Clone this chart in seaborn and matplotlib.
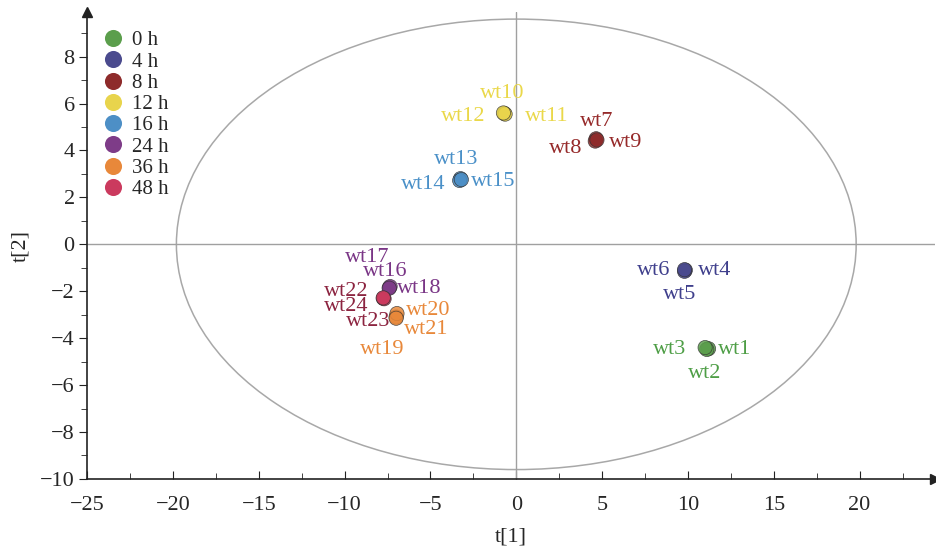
import matplotlib

matplotlib.use("Agg")
import matplotlib.pyplot as plt
import pandas as pd
import seaborn as sns
from matplotlib.patches import Ellipse
from matplotlib.ticker import MultipleLocator

# 데이터
groups = ["0 h", "4 h", "8 h", "12 h", "16 h", "24 h", "36 h", "48 h"]
group_colors = ["#5B9E4C", "#4B4B8E", "#8E2B2B", "#E8D44C",
                "#4D8FC6", "#7E3C88", "#E8883A", "#CB3A5E"]

samples = ["wt1", "wt2", "wt3", "wt4", "wt5", "wt6", "wt7", "wt8", "wt9",
           "wt10", "wt11", "wt12", "wt13", "wt14", "wt15", "wt16", "wt17", "wt18",
           "wt19", "wt20", "wt21", "wt22", "wt23", "wt24"]
sample_group = ["0 h"] * 3 + ["4 h"] * 3 + ["8 h"] * 3 + ["12 h"] * 3 + \
    ["16 h"] * 3 + ["24 h"] * 3 + ["36 h"] * 3 + ["48 h"] * 3
t1 = [11.2, 11.1, 11.0, 9.85, 9.8, 9.8, 4.65, 4.6, 4.7,
      -0.7, -0.65, -0.75, -3.25, -3.3, -3.2, -7.4, -7.35, -7.4,
      -7.0, -6.95, -7.0, -7.75, -7.7, -7.75]
t2 = [-4.45, -4.48, -4.4, -1.1, -1.15, -1.08, 4.5, 4.4, 4.45,
      5.58, 5.55, 5.6, 2.8, 2.72, 2.76, -1.85, -1.8, -1.87,
      -3.1, -2.95, -3.15, -2.3, -2.32, -2.28]

# 라벨 위치
label_x = [12.7, 11.0, 8.95, 11.55, 9.5, 8.0, 4.7, 2.85, 6.4,
           -0.8, 1.8, -3.1, -3.5, -5.4, -1.35, -7.65, -8.7, -5.65,
           -7.8, -5.15, -5.25, -9.9, -8.65, -9.9]
label_y = [-4.47, -5.5, -4.47, -1.11, -2.13, -1.11, 5.23, 4.09, 4.34,
           6.43, 5.45, 5.45, 3.62, 2.55, 2.68, -1.15, -0.55, -1.9,
           -4.47, -2.8, -3.62, -2.0, -3.28, -2.66]
label_colors = ["#4E9E46"] * 3 + ["#3F3F8C"] * 3 + ["#962A2A"] * 3 + \
    ["#EAD84A"] * 3 + ["#4A90C8"] * 3 + ["#7A3686"] * 3 + \
    ["#E8883A"] * 3 + ["#8C2440"] * 3

df = pd.DataFrame({"sample": samples, "group": sample_group, "t1": t1, "t2": t2})

sns.set_style("white")
plt.rcParams["font.family"] = "serif"
plt.rcParams["font.serif"] = ["Liberation Serif", "DejaVu Serif"]
plt.rcParams["axes.unicode_minus"] = True

fig = plt.figure(figsize=(9.37, 5.48), dpi=100)
ax = fig.add_axes([0.093, 0.126, 0.905, 0.852])

# Hotelling 타원과 기준선
ax.add_patch(Ellipse((0, 0), 39.6, 19.2, fill=False, edgecolor="#A8A8A8", lw=1.1, zorder=1))
ax.axhline(0, color="#A0A0A0", lw=1, zorder=1)
ax.axvline(0, color="#A0A0A0", lw=1, zorder=1)

sns.scatterplot(data=df, x="t1", y="t2", hue="group", hue_order=groups,
                palette=group_colors, s=105, edgecolor="#333333", linewidth=0.5,
                alpha=0.85, ax=ax, zorder=3)

for name, lx, ly, c in zip(samples, label_x, label_y, label_colors):
    ax.text(lx, ly, name, color=c, fontsize=16, ha="center", va="center",
            family="Liberation Serif", zorder=4)

ax.set_xlim(-25, 24.4)
ax.set_ylim(-10, 9.9)
ax.xaxis.set_major_locator(MultipleLocator(5))
ax.xaxis.set_minor_locator(MultipleLocator(2.5))
ax.yaxis.set_major_locator(MultipleLocator(2))
ax.yaxis.set_minor_locator(MultipleLocator(1))
ax.tick_params(axis="x", which="both", direction="in", bottom=True, labelsize=16,
               color="#222222", pad=12)
ax.tick_params(axis="x", which="major", length=6)
ax.tick_params(axis="x", which="minor", length=4)
ax.tick_params(axis="y", which="both", direction="out", left=True, labelsize=16,
               color="#222222", pad=3)
ax.tick_params(axis="y", which="major", length=6)
ax.tick_params(axis="y", which="minor", length=4)

for side in ["top", "right"]:
    ax.spines[side].set_visible(False)
for side in ["left", "bottom"]:
    ax.spines[side].set_color("#222222")
    ax.spines[side].set_linewidth(1.2)

# 축 화살표
ax.plot(1, 0, ">", color="#222222", ms=7, transform=ax.transAxes, clip_on=False)
ax.plot(0, 1, "^", color="#222222", ms=7, transform=ax.transAxes, clip_on=False)

ax.set_xlabel("t[1]", fontsize=16, labelpad=9)
ax.set_ylabel("t[2]", fontsize=16, labelpad=7)

leg = ax.legend(loc="upper left", bbox_to_anchor=(0.016, 0.96), frameon=False,
                prop={"family": "Liberation Serif", "size": 15},
                markerscale=1.2, handlelength=1.2, handletextpad=0.3,
                labelspacing=0.08, borderpad=0.0, borderaxespad=0.0)
for h in leg.legend_handles:
    h.set_markeredgecolor("none")
    h.set_alpha(1)

fig.savefig("out.png", dpi=100)
plt.close(fig)
